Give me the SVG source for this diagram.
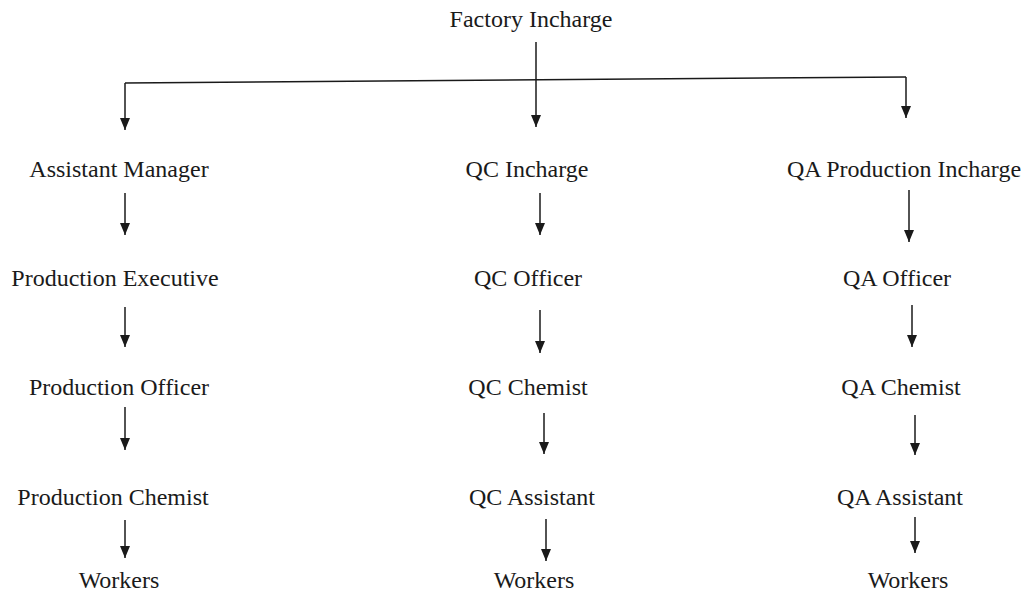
<svg xmlns="http://www.w3.org/2000/svg" width="1030" height="594" viewBox="0 0 1030 594">
<style>
text{font-family:"Liberation Serif","Times New Roman",serif;font-size:24px;fill:#1a1a1a;text-anchor:middle}
.c line,.c polyline{stroke:#1a1a1a;stroke-width:1.5;fill:none}
</style>
<defs>
<marker id="ah" viewBox="0 0 12 10" refX="12" refY="5" markerWidth="12" markerHeight="10" markerUnits="userSpaceOnUse" orient="auto">
<path d="M0,0 L12,5 L0,10 z" fill="#1a1a1a"/>
</marker>
</defs>
<rect width="1030" height="594" fill="#fff"/>
<g id="factory"><text x="531" y="27">Factory Incharge</text></g>
<g id="asst-manager"><text x="119" y="177">Assistant Manager</text></g>
<g id="prod-exec"><text x="115" y="286">Production Executive</text></g>
<g id="prod-officer"><text x="119" y="395">Production Officer</text></g>
<g id="prod-chemist"><text x="113" y="505">Production Chemist</text></g>
<g id="workers-1"><text x="119" y="588">Workers</text></g>
<g id="qc-incharge"><text x="527" y="177">QC Incharge</text></g>
<g id="qc-officer"><text x="528" y="286">QC Officer</text></g>
<g id="qc-chemist"><text x="528" y="395">QC Chemist</text></g>
<g id="qc-assistant"><text x="532" y="505">QC Assistant</text></g>
<g id="workers-2"><text x="534" y="588">Workers</text></g>
<g id="qa-prod-incharge"><text x="904" y="177">QA Production Incharge</text></g>
<g id="qa-officer"><text x="897" y="286">QA Officer</text></g>
<g id="qa-chemist"><text x="901" y="395">QA Chemist</text></g>
<g id="qa-assistant"><text x="900" y="505">QA Assistant</text></g>
<g id="workers-3"><text x="908" y="588">Workers</text></g>
<g id="connectors" class="c">
<line x1="536" y1="42" x2="536" y2="80"/>
<line x1="125" y1="83" x2="906" y2="77"/>
<line x1="125" y1="83" x2="125" y2="130" marker-end="url(#ah)"/>
<line x1="536" y1="80" x2="536" y2="127" marker-end="url(#ah)"/>
<line x1="906" y1="77" x2="906" y2="118" marker-end="url(#ah)"/>
<line x1="125" y1="193" x2="125" y2="235" marker-end="url(#ah)"/>
<line x1="125" y1="307" x2="125" y2="347" marker-end="url(#ah)"/>
<line x1="125" y1="407" x2="125" y2="450" marker-end="url(#ah)"/>
<line x1="125" y1="520" x2="125" y2="558" marker-end="url(#ah)"/>
<line x1="540" y1="193" x2="540" y2="235" marker-end="url(#ah)"/>
<line x1="540" y1="310" x2="540" y2="353" marker-end="url(#ah)"/>
<line x1="544" y1="413" x2="544" y2="454" marker-end="url(#ah)"/>
<line x1="546" y1="519" x2="546" y2="561" marker-end="url(#ah)"/>
<line x1="909" y1="190" x2="909" y2="242" marker-end="url(#ah)"/>
<line x1="912" y1="305" x2="912" y2="347" marker-end="url(#ah)"/>
<line x1="915" y1="415" x2="915" y2="455" marker-end="url(#ah)"/>
<line x1="915" y1="517" x2="915" y2="553" marker-end="url(#ah)"/>
</g>
</svg>
